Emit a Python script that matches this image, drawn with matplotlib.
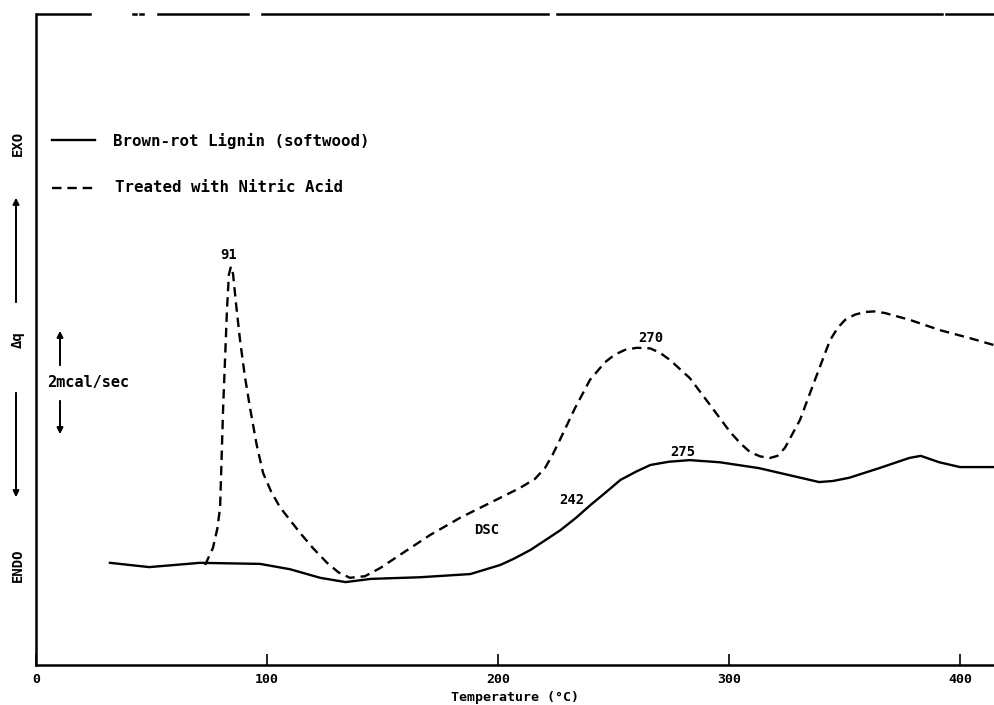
import matplotlib
matplotlib.use("Agg")
import matplotlib.pyplot as plt

# Brown-rot lignin (softwood), solid curve
temp_lignin = [32, 49, 71, 97, 110, 123, 134, 145, 166, 188, 201, 207, 214, 220, 227, 234, 240,
               247, 253, 260, 266, 274, 283, 296, 313, 331, 339, 345, 352, 365, 378, 383,
               391, 400, 415]
dq_lignin = [1.91, 1.83, 1.91, 1.89, 1.79, 1.63, 1.55, 1.61, 1.64, 1.70, 1.87, 1.99, 2.15, 2.32,
             2.52, 2.76, 2.99, 3.24, 3.46, 3.62, 3.74, 3.80, 3.83, 3.79, 3.68, 3.50, 3.42,
             3.44, 3.50, 3.68, 3.87, 3.91, 3.79, 3.70, 3.70]

# treated with nitric acid, dashed curve
temp_nitric = [73.2, 76.6, 78.5, 79.7, 81.0, 82.0, 82.7, 83.5, 84.4, 85.3, 86.6, 88.3, 90.4,
               92.6, 95.5, 98.3, 101.8, 105.6, 114.3, 120.0, 126.0, 131.0, 135.9, 142.4,
               148.9, 157.6, 170.6, 183.5, 196.5, 209.5, 216.0, 220.3, 223.5, 226.8, 233.3,
               239.8, 246.3, 250.5, 254.9, 260.0, 265.8, 270.0, 274.5, 283.1, 291.8, 300.4,
               305.0, 309.1, 313.5, 317.7, 321.0, 324.2, 330.7, 337.2, 343.7, 347.0, 350.2,
               354.5, 358.9, 363.0, 367.5, 378.4, 391.3, 404.3, 414.7]
dq_nitric = [1.87, 2.19, 2.55, 2.95, 4.80, 5.90, 6.67, 7.30, 7.45, 7.31, 6.75, 6.08, 5.40,
             4.82, 4.12, 3.59, 3.24, 2.95, 2.47, 2.18, 1.91, 1.73, 1.63, 1.66,
             1.81, 2.06, 2.43, 2.75, 3.03, 3.31, 3.48, 3.68, 3.92, 4.21, 4.80,
             5.33, 5.66, 5.80, 5.89, 5.93, 5.92, 5.84, 5.70, 5.36, 4.86, 4.36,
             4.14, 3.98, 3.90, 3.87, 3.91, 4.06, 4.58, 5.33, 6.07, 6.30, 6.45,
             6.55, 6.60, 6.61, 6.58, 6.45, 6.26, 6.11, 5.98]

xticks = [0, 100, 200, 300, 400]
peak_labels = ["91", "270", "275", "242"]
peak_pos = [(83.5, 7.53), (266, 5.98), (280, 3.86), (232, 2.95)]

W, H = 994, 705
mono = "DejaVu Sans Mono"
fig = plt.figure(figsize=(W / 100, H / 100), dpi=100)
ax = fig.add_axes([36 / W, 40 / H, 1 - 36 / W, (665 - 14) / H])
ax.set_xlim(0, 414.7)
ax.set_ylim(0, 12.17)

ax.plot(temp_lignin, dq_lignin, color="black", lw=1.7)
ax.plot(temp_nitric, dq_nitric, color="black", lw=1.7, linestyle=(0, (4, 2.5)))

for s in ["top", "right"]:
    ax.spines[s].set_visible(False)
for s in ["left", "bottom"]:
    ax.spines[s].set_linewidth(1.8)

# broken top frame line of the scanned plot
for a, b in [(37, 90), (133, 136), (140, 143), (158, 248), (262, 548), (557, 942), (946, 994)]:
    ax.plot([(a - 36) / 958, (b - 36) / 958], [1, 1], color="black", lw=1.8,
            transform=ax.transAxes, clip_on=False)

ax.set_xticks(xticks)
ax.set_xticklabels([str(t) for t in xticks], fontsize=9.5, fontweight="bold", family=mono)
ax.tick_params(axis="x", direction="in", length=8, width=1.2, pad=6)
ax.set_yticks([])
ax.set_xlabel("Temperature (°C)", fontsize=9.5, fontweight="bold", family=mono, labelpad=3)

for lab, (tx, ty) in zip(peak_labels, peak_pos):
    ax.text(tx, ty, lab, fontsize=10, fontweight="bold", family=mono, ha="center", va="bottom")
ax.text(195, 2.45, "DSC", fontsize=10, fontweight="bold", family=mono, ha="center")

# legend, drawn like the original
ax.plot([(52 - 36) / 958, (95 - 36) / 958], [(665 - 140) / 651] * 2, color="black",
        lw=1.7, transform=ax.transAxes)
ax.plot([(52 - 36) / 958, (95 - 36) / 958], [(665 - 188) / 651] * 2, color="black",
        lw=1.7, linestyle=(0, (4, 2.5)), transform=ax.transAxes)
fig.text(113 / W, 1 - 141 / H, "Brown-rot Lignin (softwood)", fontsize=11.3,
         fontweight="bold", family=mono, va="center")
fig.text(115 / W, 1 - 188 / H, "Treated with Nitric Acid", fontsize=11.3,
         fontweight="bold", family=mono, va="center")

# y-axis annotations on the left
for txt, py in [("EXO", 143), ("Δq", 340), ("ENDO", 565)]:
    fig.text(18 / W, 1 - py / H, txt, rotation=90, fontsize=10, fontweight="bold",
             family=mono, ha="center", va="center")
arrow = dict(arrowstyle="-|>", color="black", lw=1.4, mutation_scale=9)
ax.annotate("", xy=(16, H - 195), xytext=(16, H - 305), xycoords="figure pixels",
            textcoords="figure pixels", arrowprops=arrow, annotation_clip=False)
ax.annotate("", xy=(16, H - 500), xytext=(16, H - 390), xycoords="figure pixels",
            textcoords="figure pixels", arrowprops=arrow, annotation_clip=False)

# 2 mcal/sec scale bar
ax.annotate("", xy=(60, H - 328), xytext=(60, H - 368), xycoords="figure pixels",
            textcoords="figure pixels", arrowprops=arrow)
ax.annotate("", xy=(60, H - 437), xytext=(60, H - 398), xycoords="figure pixels",
            textcoords="figure pixels", arrowprops=arrow)
fig.text(47 / W, 1 - 383 / H, "2mcal/sec", fontsize=11, fontweight="bold", family=mono,
         va="center")

fig.savefig("out.png", dpi=100)
